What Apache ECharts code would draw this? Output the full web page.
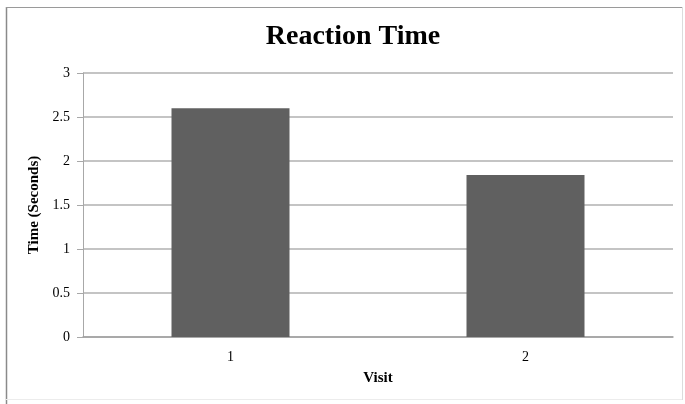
<!DOCTYPE html>
<html>
<head>
<meta charset="utf-8">
<script src="https://cdn.jsdelivr.net/npm/echarts@6/dist/echarts.min.js"></script>
<style>
html,body{margin:0;padding:0;background:#fff;}
#main{width:685px;height:404px;}
</style>
</head>
<body>
<div id="main"></div>
<script>
var categories = ['1', '2'];
var reactionTimes = [2.6, 1.84];
var yTicks = { min: 0, max: 3, interval: 0.5 };

var chart = echarts.init(document.getElementById('main'));
var serif = 'Liberation Serif, Times New Roman, serif';
chart.setOption({
  animation: false,
  backgroundColor: '#fff',
  title: {
    text: 'Reaction Time',
    left: 348,
    textAlign: 'center',
    top: 18,
    textStyle: { fontFamily: serif, fontWeight: 'bold', fontSize: 28, color: '#000' }
  },
  graphic: [
    { type: 'line', shape: { x1: 6.5, y1: 7, x2: 6.5, y2: 404 }, style: { stroke: '#8a8a8a', lineWidth: 1.5 } },
    { type: 'line', shape: { x1: 6, y1: 7.5, x2: 682, y2: 7.5 }, style: { stroke: '#9a9a9a', lineWidth: 1.2 } },
    { type: 'line', shape: { x1: 682.5, y1: 7, x2: 682.5, y2: 400 }, style: { stroke: '#dcdcdc', lineWidth: 1 } },
    { type: 'line', shape: { x1: 6, y1: 399.5, x2: 682, y2: 399.5 }, style: { stroke: '#ececec', lineWidth: 1 } }
  ],
  grid: { left: 83, right: 12, top: 73, bottom: 67, containLabel: false },
  xAxis: {
    type: 'category',
    data: categories,
    name: 'Visit',
    nameLocation: 'middle',
    nameGap: 34,
    nameTextStyle: { fontFamily: serif, fontWeight: 'bold', fontSize: 15, color: '#000' },
    axisLine: { lineStyle: { color: '#a0a0a0', width: 1.5 } },
    axisTick: { show: false },
    axisLabel: { fontFamily: serif, fontSize: 14, color: '#000', margin: 13 }
  },
  yAxis: {
    type: 'value',
    min: yTicks.min,
    max: yTicks.max,
    interval: yTicks.interval,
    name: 'Time (Seconds)',
    nameLocation: 'middle',
    nameGap: 39,
    nameRotate: 90,
    nameTextStyle: { fontFamily: serif, fontWeight: 'bold', fontSize: 15, color: '#000' },
    axisLine: { show: true, lineStyle: { color: '#a8a8a8', width: 1 } },
    axisTick: { show: true, length: 6, lineStyle: { color: '#a8a8a8' } },
    axisLabel: { fontFamily: serif, fontSize: 14, color: '#000', margin: 13 },
    splitLine: { lineStyle: { color: '#b0b0b0', width: 1.5 } }
  },
  series: [{
    type: 'bar',
    data: reactionTimes,
    barWidth: 118,
    itemStyle: { color: '#606060' }
  }]
});
</script>
</body>
</html>
